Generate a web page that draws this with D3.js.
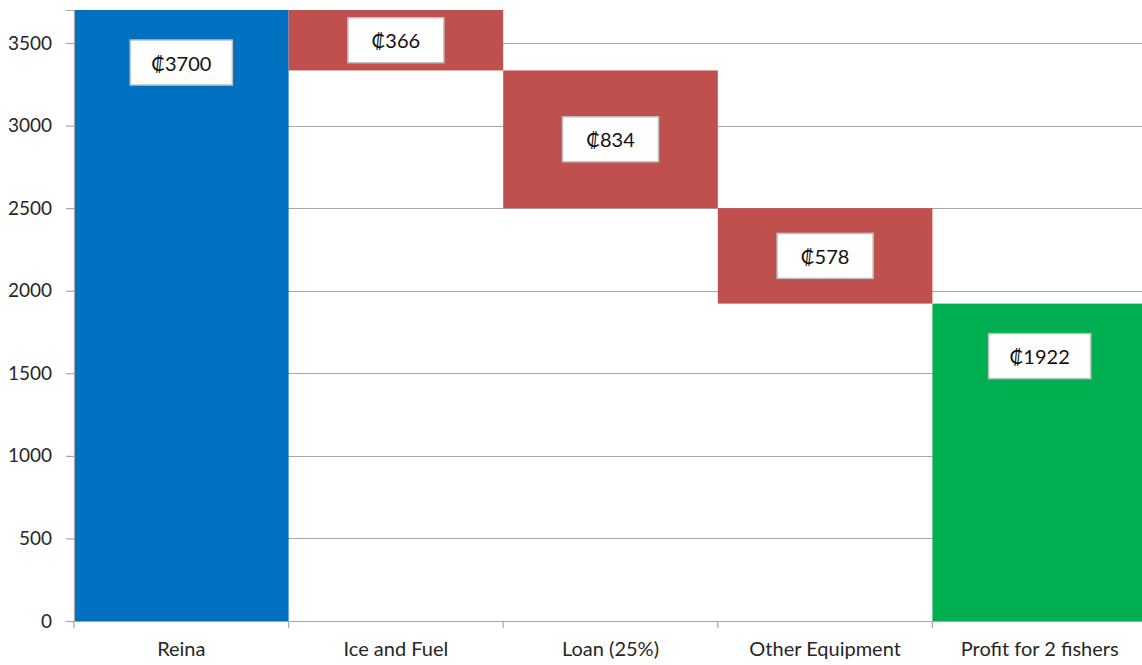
<!DOCTYPE html>
<html>
<head>
<meta charset="utf-8">
<script src="https://cdn.jsdelivr.net/npm/d3@7"></script>
<style>
  html, body { margin: 0; padding: 0; background: #fff; }
  svg { display: block; }
  text { font-family: Lato, "Open Sans", "DejaVu Sans", sans-serif; }
</style>
</head>
<body>
<svg id="chart" width="1142" height="665"></svg>
<script>
// Waterfall: fish sale revenue, the costs taken out of it, and the remaining profit
const categories = ["Reina", "Ice and Fuel", "Loan (25%)", "Other Equipment", "Profit for 2 fishers"];
const amounts = [3700, 366, 834, 578, 1922];
const kinds = ["total", "decrease", "decrease", "decrease", "total"];
const yTicks = [0, 500, 1000, 1500, 2000, 2500, 3000, 3500];
const currency = "\u20A1";

const colors = { total0: "#0070C0", decrease: "#C0504D", total1: "#00B050" };

// Running levels: each decrease hangs from the previous level
let level = 0;
const bars = categories.map((c, i) => {
  let lo, hi;
  if (kinds[i] === "total") { lo = 0; hi = amounts[i]; level = amounts[i]; }
  else { hi = level; lo = level - amounts[i]; level = lo; }
  return { cat: c, value: amounts[i], kind: kinds[i], lo, hi, i };
});

const svg = d3.select("#chart");
const plotLeft = 74, plotBottom = 621, plotTop = 10, plotRight = 1147, viewRight = 1142;

const x = d3.scaleBand().domain(categories).range([plotLeft, plotRight]).padding(0);
const y = d3.scaleLinear().domain([0, 3700]).range([plotBottom, plotTop]);

// Horizontal gridlines
svg.append("g")
  .selectAll("line")
  .data(yTicks.filter(t => t > 0))
  .join("line")
  .attr("x1", plotLeft).attr("x2", viewRight)
  .attr("y1", d => Math.round(y(d)) + 0.5).attr("y2", d => Math.round(y(d)) + 0.5)
  .attr("stroke", "#a6a6a6").attr("stroke-width", 1.2);

// Bars
svg.append("g")
  .selectAll("rect")
  .data(bars)
  .join("rect")
  .attr("x", d => x(d.cat))
  .attr("width", x.bandwidth())
  .attr("y", d => y(d.hi))
  .attr("height", d => y(d.lo) - y(d.hi))
  .attr("fill", d => d.kind === "decrease" ? colors.decrease : (d.i === 0 ? colors.total0 : colors.total1));

// Y axis
const yAxis = svg.append("g")
  .attr("transform", `translate(${plotLeft},0)`)
  .call(d3.axisLeft(y).tickValues(yTicks).tickSize(8).tickPadding(14).tickFormat(d3.format("d")));
yAxis.select(".domain").attr("stroke", "#a6a6a6").attr("stroke-width", 1.2);
yAxis.selectAll(".tick line").attr("stroke", "#a6a6a6").attr("stroke-width", 1.2);
yAxis.selectAll(".tick text").attr("font-size", 19).attr("fill", "#262626");

// X axis with ticks on the band boundaries
const xAxisG = svg.append("g").attr("transform", `translate(0,${plotBottom})`);
xAxisG.append("line")
  .attr("x1", plotLeft).attr("x2", viewRight).attr("y1", 0.5).attr("y2", 0.5)
  .attr("stroke", "#a6a6a6").attr("stroke-width", 1.2);
xAxisG.selectAll("line.bt")
  .data(categories)
  .join("line")
  .attr("class", "bt")
  .attr("x1", d => x(d)).attr("x2", d => x(d))
  .attr("y1", 0).attr("y2", 7)
  .attr("stroke", "#a6a6a6").attr("stroke-width", 1.2);
xAxisG.selectAll("text")
  .data(categories)
  .join("text")
  .attr("x", d => x(d) + x.bandwidth() / 2)
  .attr("y", 35)
  .attr("text-anchor", "middle")
  .attr("font-size", 20)
  .attr("fill", "#262626")
  .text(d => d);

// Value labels in white boxes
const labels = svg.append("g").selectAll("g").data(bars).join("g");
labels.each(function (d) {
  const g = d3.select(this);
  const cx = x(d.cat) + x.bandwidth() / 2;
  const boxH = 45;
  const cy = d.kind === "total" ? y(d.hi) + 30 + boxH / 2 : (y(d.hi) + y(d.lo)) / 2;
  const rect = g.append("rect");
  const t = g.append("text")
    .attr("x", cx).attr("y", cy)
    .attr("text-anchor", "middle")
    .attr("dominant-baseline", "central")
    .attr("font-size", 20)
    .attr("fill", "#111")
    .text(currency + d.value);
  const w = Math.max(96, t.node().getComputedTextLength() + 42);
  rect.attr("x", cx - w / 2).attr("y", cy - boxH / 2)
    .attr("width", w).attr("height", boxH)
    .attr("fill", "#fff").attr("stroke", "#bfbfbf").attr("stroke-width", 1.5);
});
</script>
</body>
</html>
